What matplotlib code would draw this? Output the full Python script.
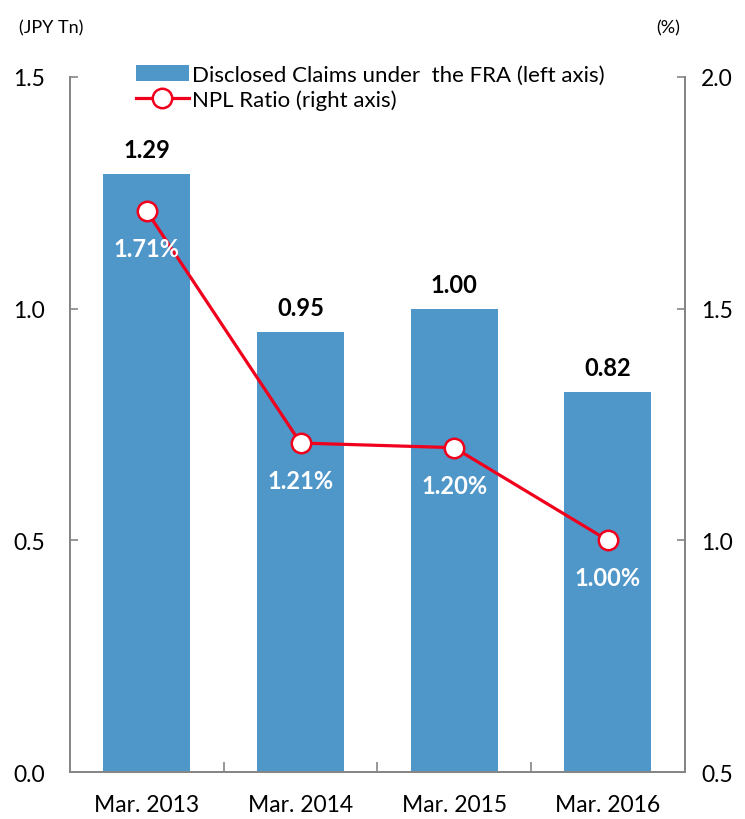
import matplotlib.pyplot as plt
from matplotlib.ticker import FixedLocator

plt.rcParams['font.family'] = ['Lato', 'DejaVu Sans']

periods = ['Mar. 2013', 'Mar. 2014', 'Mar. 2015', 'Mar. 2016']
claims = [1.29, 0.95, 1.00, 0.82]      # JPY Tn
npl_ratio = [1.71, 1.21, 1.20, 1.00]   # %

bar_color = '#4f96c9'
line_color = '#f0001c'
axis_color = '#868686'

fig = plt.figure(figsize=(7.45, 8.2), dpi=100)
ax = fig.add_axes([0.094, 0.0573, 0.825, 0.8476])
ax2 = ax.twinx()

x = list(range(len(periods)))
bars = ax.bar(x, claims, width=0.565, color=bar_color, zorder=2,
              label='Disclosed Claims under  the FRA (left axis)')
for xi, v in zip(x, claims):
    ax.annotate(f'{v:.2f}', (xi, v), xytext=(0, 17.5), textcoords='offset points',
                ha='center', va='center', fontsize=17, fontweight='bold')

line, = ax2.plot(x, npl_ratio, color=line_color, linewidth=2.3, marker='o',
                 markersize=14, markerfacecolor='white', markeredgecolor=line_color,
                 markeredgewidth=1.8, label='NPL Ratio (right axis)', zorder=3)
for xi, v in zip(x, npl_ratio):
    ax2.annotate(f'{v:.2f}%', (xi, v), xytext=(0, -27), textcoords='offset points',
                 ha='center', va='center', fontsize=17, fontweight='bold',
                 color='white')

ax.set_xlim(-0.5, 3.5)
ax.set_ylim(0, 1.5)
ax2.set_ylim(0.5, 2.0)
ax.set_yticks([0, 0.5, 1.0, 1.5])
ax.set_yticklabels(['0.0', '0.5', '1.0', '1.5'])
ax2.set_yticks([0.5, 1.0, 1.5, 2.0])
ax2.set_yticklabels(['0.5', '1.0', '1.5', '2.0'])

ax.set_xticks(x)
ax.set_xticklabels(periods)
ax.xaxis.set_minor_locator(FixedLocator([0.5, 1.5, 2.5]))
ax.tick_params(axis='x', which='major', length=0, pad=16, labelsize=16.5)
ax.tick_params(axis='x', which='minor', direction='in', length=7,
               color=axis_color, width=1.2)
ax.tick_params(axis='y', direction='in', length=6, color=axis_color,
               width=1.2, pad=18, labelsize=16.5)
ax2.tick_params(axis='y', direction='in', length=6, color=axis_color,
                width=1.2, pad=12, labelsize=16.5)

for a in (ax, ax2):
    a.spines['top'].set_visible(False)
    for s in ('left', 'right', 'bottom'):
        a.spines[s].set_color(axis_color)
        a.spines[s].set_linewidth(1.4)

fig.text(0.069, 0.966, '(JPY Tn)', ha='center', va='center', fontsize=13)
fig.text(0.897, 0.966, '(%)', ha='center', va='center', fontsize=13)

fig.legend(handles=[bars, line], loc='upper left', bbox_to_anchor=(0.182, 0.92),
           frameon=False, fontsize=16, handlelength=2.4, handletextpad=0.15,
           borderaxespad=0, borderpad=0, labelspacing=0.2)

fig.savefig('out.png', dpi=100)
